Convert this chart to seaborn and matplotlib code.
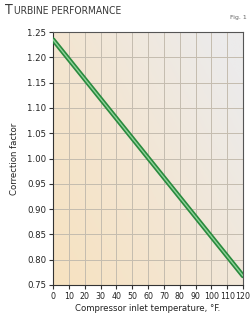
import numpy as np
import matplotlib
matplotlib.use("Agg")
import matplotlib.pyplot as plt
import seaborn as sns
import pandas as pd
from matplotlib.colors import LinearSegmentedColormap

temperature = [0, 120]
correction = [1.235, 0.768]
x_ticks = list(range(0, 121, 10))
y_ticks = [0.75, 0.80, 0.85, 0.90, 0.95, 1.00, 1.05, 1.10, 1.15, 1.20, 1.25]

sns.set_style("white")
plt.rcParams['font.family'] = ['DejaVu Sans']

fig = plt.figure(figsize=(2.5, 3.17), dpi=100)
ax = fig.add_axes([0.212, 0.101, 0.76, 0.798])

# gradient background
cmap = LinearSegmentedColormap.from_list("bg", ["#f7e2c0", "#f3e6d3", "#ecebeb"])
gx, gy = np.meshgrid(np.linspace(0, 1, 200), np.linspace(0, 1, 200))
grad = np.clip((gx * 0.7 + gy * 0.5) / 1.1, 0, 1)
ax.imshow(grad, cmap=cmap, extent=[0, 1, 0, 1], transform=ax.transAxes,
          origin="lower", aspect="auto", zorder=0)

df = pd.DataFrame({"temp": temperature, "cf": correction})
sns.lineplot(data=df, x="temp", y="cf", ax=ax, color="#2a8a3e", linewidth=3.4, zorder=3)
sns.lineplot(data=df, x="temp", y="cf", ax=ax, color="#8fd39a", linewidth=1.0, zorder=4)

ax.set_xlim(0, 120)
ax.set_ylim(0.75, 1.25)
ax.set_xticks(x_ticks)
ax.set_yticks(y_ticks)
ax.set_yticklabels([f"{v:.2f}" for v in y_ticks])
ax.grid(True, color="#c4bcaf", linewidth=0.7, zorder=1)
for l in ax.get_xgridlines() + ax.get_ygridlines():
    l.set_zorder(1)
ax.tick_params(axis="both", colors="#333333", length=3, width=0.8,
               direction="out", pad=2, bottom=True, left=True)
ax.tick_params(axis="x", labelsize=6.3)
ax.tick_params(axis="y", labelsize=6.8)
for lab in ax.get_xticklabels() + ax.get_yticklabels():
    lab.set_fontstretch("condensed")
    lab.set_color("#222222")
for s in ax.spines.values():
    s.set_color("#555555")
    s.set_linewidth(0.8)
ax.spines["left"].set_color("#333333")
ax.spines["bottom"].set_color("#333333")

ax.set_xlabel("Compressor inlet temperature, °F.", fontsize=6.8, color="#222222",
              fontstretch="condensed")
ax.set_ylabel("Correction factor", fontsize=6.8, color="#222222",
              fontstretch="condensed")
ax.xaxis.set_label_coords(0.5, -0.075)
ax.yaxis.set_label_coords(-0.18, 0.5)

fig.text(0.02, 0.955, "T", fontsize=10, color="#3a3a3a", fontstretch="condensed",
         va="baseline")
fig.text(0.058, 0.955, "URBINE PERFORMANCE", fontsize=7.4, color="#3a3a3a",
         fontstretch="condensed", va="baseline")
fig.text(0.985, 0.94, "Fig. 1", fontsize=4.5, color="#666666", ha="right", va="baseline")

fig.savefig("out.png", dpi=100)
